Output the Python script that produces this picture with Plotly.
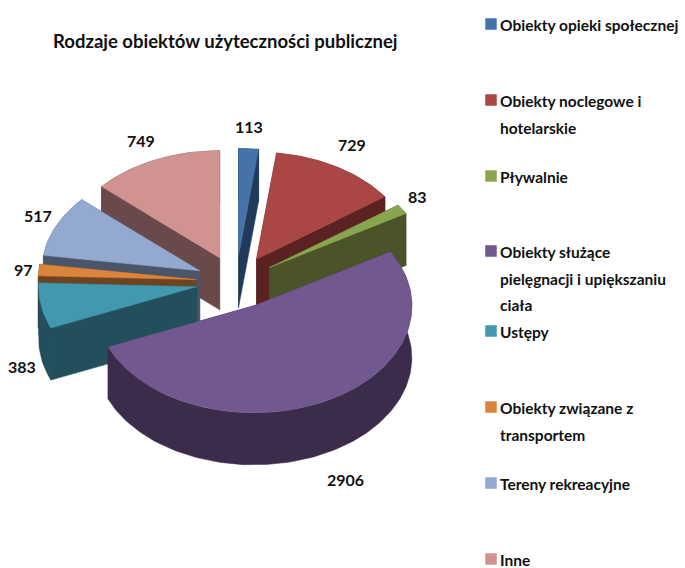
import numpy as np
import plotly.graph_objects as go

title = "Rodzaje obiektów użyteczności publicznej"
categories = ["Obiekty opieki społecznej", "Obiekty noclegowe i<br>hotelarskie", "Pływalnie",
              "Obiekty służące<br>pielęgnacji i upiększaniu<br>ciała", "Ustępy",
              "Obiekty związane z<br>transportem", "Tereny rekreacyjne", "Inne"]
values = [113, 729, 83, 2906, 383, 97, 517, 749]

top_colors = ["#4573A7", "#AA4644", "#89A54E", "#71588F", "#4298AF", "#DB843D", "#93A9CF", "#D19392"]
wall_colors = ["#213A5C", "#5A2321", "#4A5428", "#3B2C4C", "#234E5B", "#6E4420", "#4A5569", "#69494A"]

# Pixel-space projection of the exploded pie
CX, CY, RX, RY = 236, 282, 158, 107
EX, EY, DEPTH = 40, 26.6, 52
label_xy = [(249, 126), (352, 144), (417, 196), (345, 479), (22, 366), (23, 269), (38, 215), (141, 140)]
legend_y = [25, 101, 177, 252, 332, 408, 484, 560]
LINE_STEP = 26.5
FONT = "Lato, sans-serif"
INK = "#111111"

fig = go.Figure()
total = sum(values)
edges = np.cumsum([0] + values) / total * 2 * np.pi
order = [0, 1, 2, 7, 6, 5, 4, 3]


def poly(x, y, color, name):
    fig.add_trace(go.Scatter(x=x, y=y, mode="lines", fill="toself", fillcolor=color,
                             line=dict(color=color, width=0.5), name=name, hoverinfo="name",
                             showlegend=False))


for i in order:
    a0, a1 = edges[i], edges[i + 1]
    mid = (a0 + a1) / 2
    ax = CX + EX * np.sin(mid)
    ay = CY - EY * np.cos(mid)
    t = np.linspace(a0, a1, max(3, int((a1 - a0) * 40)))
    ex = ax + RX * np.sin(t)
    ey = ay - RY * np.cos(t)
    name = categories[i].replace("<br>", " ")
    # radial walls
    for k in (0, -1):
        poly([ax, ex[k], ex[k], ax, ax], [ay, ey[k], ey[k] + DEPTH, ay + DEPTH, ay], wall_colors[i], name)
    # rim wall
    poly(list(ex) + list(ex[::-1]) + [ex[0]], list(ey) + list(ey[::-1] + DEPTH) + [ey[0]], wall_colors[i], name)
    # top face
    poly([ax] + list(ex) + [ax], [ay] + list(ey) + [ay], top_colors[i], name)

# legend swatches and labels
fig.add_trace(go.Scatter(x=[491] * len(values), y=[y - 1 for y in legend_y], mode="markers",
                         marker=dict(symbol="square", size=11.5, color=top_colors),
                         showlegend=False, hoverinfo="skip"))
ann = []
for cat, y in zip(categories, legend_y):
    for n, line in enumerate(cat.split("<br>")):
        ann.append(dict(x=498, y=y + n * LINE_STEP, text=line, xanchor="left", yanchor="middle", align="left",
                        showarrow=False, font=dict(family=FONT, size=15.5, color=INK, weight=700)))
for v, (x, y) in zip(values, label_xy):
    ann.append(dict(x=x, y=y, text=str(v), xanchor="center", yanchor="middle", showarrow=False,
                    font=dict(family=FONT, size=16, color=INK, weight=700)))
ann.append(dict(x=225, y=41, text=title, xanchor="center", yanchor="middle", showarrow=False,
                font=dict(family=FONT, size=18.5, color=INK, weight=700)))

fig.update_layout(
    width=685, height=568, margin=dict(l=0, r=0, t=0, b=0),
    paper_bgcolor="white", plot_bgcolor="white", annotations=ann,
    xaxis=dict(range=[0, 685], visible=False, fixedrange=True),
    yaxis=dict(range=[568, 0], visible=False, fixedrange=True),
    font=dict(family=FONT),
)
fig.write_html("out.html", config={"displayModeBar": False},
               post_script="document.body.style.margin='0';document.body.style.overflow='hidden';")
